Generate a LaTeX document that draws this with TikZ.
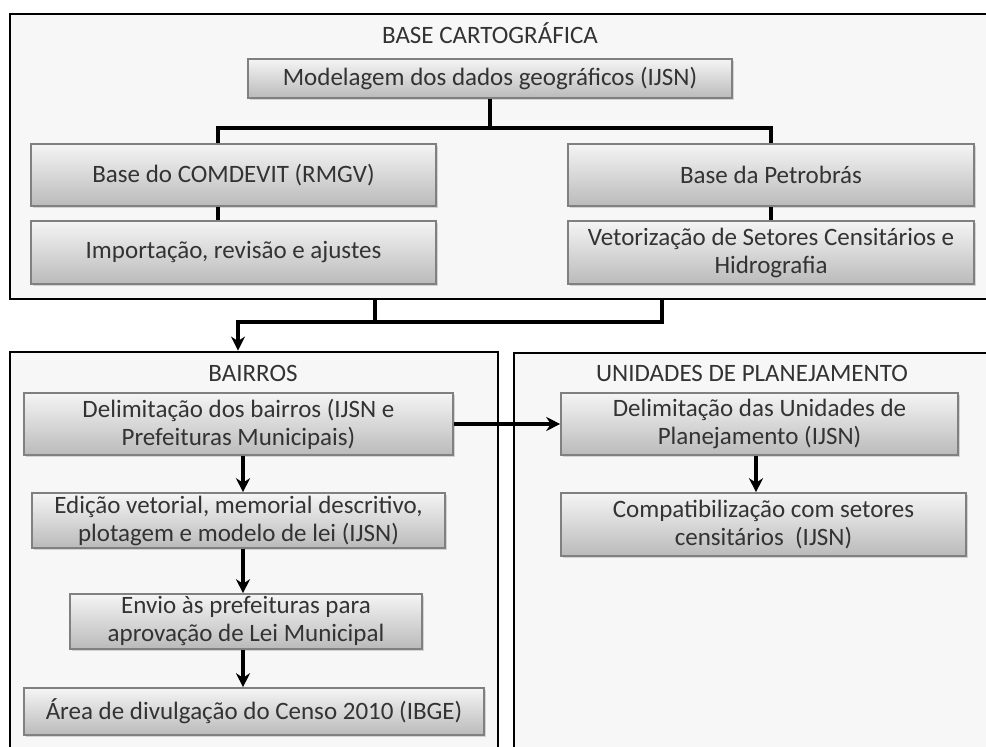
\documentclass[tikz,border=0pt]{standalone}
\usepackage{fontspec}
\setmainfont{Carlito}
\usepackage{xcolor}
\usetikzlibrary{arrows.meta,shadows}
\definecolor{panelbg}{HTML}{F7F7F7}
\definecolor{txt}{HTML}{333333}

\begin{document}
\begin{tikzpicture}[x=0.5pt,y=-0.5pt,
  every node/.style={font=\fontsize{12.5}{14}\selectfont, text=txt},
  panel/.style={draw=black, line width=1.4pt, fill=panelbg, inner sep=0pt},
  caixa/.style={draw=black!50, line width=0.8pt, top color=black!4, bottom color=black!27, align=center, inner sep=0pt,
    drop shadow={shadow xshift=0.8pt, shadow yshift=-0.8pt, opacity=0.3}},
  liga/.style={line width=1.6pt, draw=black},
  seta/.style={liga, -{Stealth[length=7pt,width=7pt]}}]
  \fill[white] (0,0) rectangle (986,747); \useasboundingbox (0,0) rectangle (986,747); \clip (0,0) rectangle (986,747);
  % base cartografica
  \node[panel, minimum width=495pt, minimum height=142.5pt] (base) at (505,156.5) {}; \node (tbase) at (490,33) {BASE CARTOGRÁFICA};
  \node[caixa, minimum width=242pt, minimum height=19.5pt] (model) at (490,78.5) {Modelagem dos dados geográficos (IJSN)};
  \node[caixa, minimum width=202.5pt, minimum height=31pt] (comdevit) at (233.5,175) {Base do COMDEVIT (RMGV)};
  \node[caixa, minimum width=202.5pt, minimum height=31.5pt] (import) at (233.5,252.5) {Importação, revisão e ajustes};
  \node[caixa, minimum width=203pt, minimum height=31pt] (petro) at (771,175) {Base da Petrobrás};
  \node[caixa, minimum width=203pt, minimum height=31.5pt] (vetor) at (771,252.5) {Vetorização de Setores Censitários e\\Hidrografia};
  \coordinate (eixoA) at (218,128); \coordinate (eixoB) at (771,128);
  \draw[liga] (model.south) -- (model.south |- eixoA) -- (eixoA) -- (eixoA |- comdevit.north); \draw[liga] (model.south |- eixoB) -- (eixoB) -- (petro.north);
  \draw[liga] (comdevit.south -| eixoA) -- (import.north -| eixoA); \draw[liga] (petro.south) -- (vetor.north);
  % bairros e unidades
  \node[panel, minimum width=244pt, minimum height=204pt] (bairros) at (254,556) {}; \node (tbairros) at (253,373) {BAIRROS};
  \node[panel, minimum width=243pt, minimum height=203.5pt] (unid) at (757,556.5) {}; \node (tunid) at (752,373) {UNIDADES DE PLANEJAMENTO};
  \coordinate (saiA) at (375,299); \coordinate (saiB) at (662,299); \coordinate (junta) at (238,322);
  \draw[liga] (saiB) |- (saiA |- junta); \draw[seta] (saiA) |- (junta) -- (junta |- bairros.north);
  \node[caixa, minimum width=214.5pt, minimum height=31pt] (delim) at (238.5,424) {Delimitação dos bairros (IJSN e\\Prefeituras Municipais)};
  \node[caixa, minimum width=206.5pt, minimum height=27.5pt] (edicao) at (238.5,520.5) {Edição vetorial, memorial descritivo,\\plotagem e modelo de lei (IJSN)};
  \node[caixa, minimum width=176pt, minimum height=27.5pt] (envio) at (246,621.5) {Envio às prefeituras para\\aprovação de Lei Municipal};
  \node[caixa, minimum width=230pt, minimum height=23.5pt] (area) at (254,711.5) {Área de divulgação do Censo 2010 (IBGE)};
  \node[caixa, minimum width=198.5pt, minimum height=31pt] (udelim) at (759.5,424) {Delimitação das Unidades de\\Planejamento (IJSN)};
  \node[caixa, minimum width=202.5pt, minimum height=31.5pt] (compat) at (763.5,524.5) {Compatibilização com setores\\censitários \ (IJSN)};
  \coordinate (fio) at (243,0); \coordinate (fioU) at (756,0);
  \draw[seta] (delim.south -| fio) -- (edicao.north -| fio); \draw[seta] (edicao.south -| fio) -- (envio.north -| fio); \draw[seta] (envio.south -| fio) -- (area.north -| fio);
  \draw[seta] (delim.east) -- (udelim.west); \draw[seta] (udelim.south -| fioU) -- (compat.north -| fioU);
\end{tikzpicture}
\end{document}
